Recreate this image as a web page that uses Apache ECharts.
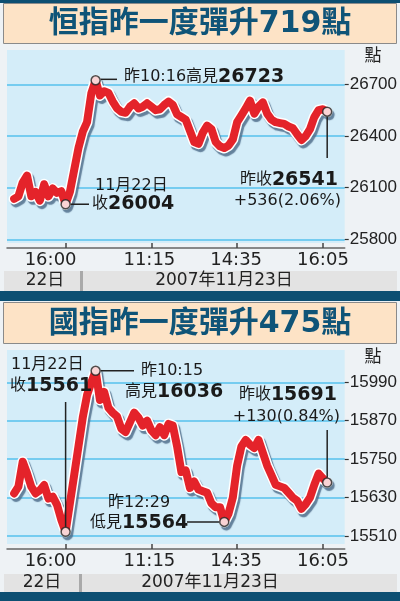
<!DOCTYPE html>
<html><head><meta charset="utf-8">
<script src="https://cdn.jsdelivr.net/npm/echarts@6/dist/echarts.min.js"></script>
<style>html,body{margin:0;padding:0;background:#eef2f5}#c{width:400px;height:601px}</style>
</head><body><div id="c"></div>
<script>
const hsiTitle = '恒指昨一度彈升719點';
const hsceiTitle = '國指昨一度彈升475點';
const unitLabel = '點';
const timeTickIdx = [12, 32, 52, 72];
const timeTickLabels = ['16:00', '11:15', '14:35', '16:05'];
const dateLabels = ['22日', '2007年11月23日'];
const hsiTicks = [25800, 26100, 26400, 26700];
const hsceiTicks = [15510, 15630, 15750, 15870, 15990];
const hsiValues = [
  26035, 26050, 26130, 26170, 26050, 26075, 26025, 26120, 26050, 26095, 26070, 26080, 26004,
  26075, 26203, 26330, 26425, 26480, 26648, 26723, 26635, 26660, 26650, 26600, 26560, 26540,
  26535, 26570, 26590, 26560, 26570, 26590, 26570, 26550, 26555, 26580, 26600, 26580, 26525,
  26510, 26495, 26430, 26365, 26355, 26420, 26460, 26440, 26365, 26340, 26330, 26345, 26380,
  26480, 26520, 26560, 26605, 26530, 26570, 26595, 26530, 26495, 26480, 26475, 26470, 26455,
  26445, 26410, 26377, 26400, 26440, 26510, 26550, 26555, 26541
];
const hsceiValues = [
  15643, 15664, 15742, 15706, 15664, 15643, 15653, 15669, 15627, 15633, 15607, 15560, 15523,
  15612, 15700, 15790, 15880, 15950, 15990, 16026, 15935, 15960, 15910, 15895, 15883, 15845,
  15835, 15865, 15895, 15880, 15855, 15870, 15840, 15825, 15850, 15825, 15860, 15855, 15790,
  15710, 15715, 15660, 15680, 15655, 15650, 15645, 15612, 15600, 15600, 15554, 15580, 15630,
  15730, 15790, 15810, 15795, 15785, 15810, 15770, 15730, 15700, 15670, 15665, 15660, 15645,
  15630, 15620, 15595, 15610, 15630, 15670, 15705, 15690, 15677
];
const hsiMarks = [12, 19, 73];
const hsceiMarks = [12, 19, 49, 73];
const hsiNotes = { high: ['昨10:16高見', '26723'], prev: ['11月22日', '收', '26004'], close: ['昨收', '26541', '+536(2.06%)'] };
const hsceiNotes = { prev: ['11月22日', '收', '15561'], high: ['昨10:15', '高見', '16036'], close: ['昨收', '15691', '+130(0.84%)'], low: ['昨12:29', '低見', '15564'] };

const F = '"DejaVu Sans", "Noto Sans CJK TC", sans-serif';
const FA = '"Liberation Sans", Arial, sans-serif';
const TEAL = '#0d4f72';
// pixel nudge of each time label relative to its tick (first one sits left of its tick in the source)
const labelNudge = [-15, -2, -1, 0];

function xAx(gi) {
  return {
    type: 'value', gridIndex: gi, min: -1.667, max: 77.09, offset: 5,
    axisLine: { show: true, onZero: false, lineStyle: { color: '#666', width: 1.5 } },
    axisTick: { show: true, inside: true, length: 5, customValues: timeTickIdx, lineStyle: { color: '#444', width: 1.5 } },
    axisLabel: { show: false },
    splitLine: { show: false }
  };
}
function yAx(gi, min, max, ticks) {
  return {
    type: 'value', gridIndex: gi, position: 'right', min: min, max: max,
    axisLine: { show: true, onZero: false, lineStyle: { color: 'rgba(0,0,0,0)' } },
    axisTick: { show: true, length: 4, customValues: ticks, lineStyle: { color: '#333', width: 1.2 } },
    axisLabel: { customValues: ticks, margin: 5, color: '#222', fontFamily: FA, fontSize: 17,
      formatter: function (v) { return String(Math.round(v)); } },
    splitLine: { show: true, lineStyle: { color: '#56c0ec', width: 1.5 } }
  };
}
function seriesFor(gi, vals, marks) {
  const data = vals.map(function (v, i) { return [i, v]; });
  return [
    { type: 'line', xAxisIndex: gi, yAxisIndex: gi, data: data, showSymbol: false, silent: true, z: 2,
      lineStyle: { color: '#ffffff', width: 11, cap: 'round', join: 'round', shadowColor: 'rgba(80,110,140,0.85)', shadowOffsetX: 2, shadowOffsetY: 3, shadowBlur: 1 } },
    { type: 'line', xAxisIndex: gi, yAxisIndex: gi, data: data, showSymbol: false, silent: true, z: 3,
      lineStyle: { color: '#e4232a', width: 8, cap: 'round', join: 'round' } },
    { type: 'scatter', xAxisIndex: gi, yAxisIndex: gi, data: marks.map(function (i) { return [i, vals[i]]; }),
      symbolSize: 9, z: 5, itemStyle: { color: '#fff', borderColor: '#222', borderWidth: 1.5 } }
  ];
}

const chart = echarts.init(document.getElementById('c'), null, { renderer: 'canvas' });
chart.setOption({
  animation: false,
  backgroundColor: '#eef2f5',
  grid: [
    { left: 7, width: 340, top: 50, height: 193, show: true, backgroundColor: '#d4edf9', borderWidth: 0 },
    { left: 7, width: 340, top: 350, height: 194, show: true, backgroundColor: '#d4edf9', borderWidth: 0 }
  ],
  xAxis: [xAx(0), xAx(1)],
  yAxis: [yAx(0, 25779, 26899, hsiTicks), yAx(1, 15485, 16091, hsceiTicks)],
  series: seriesFor(0, hsiValues, hsiMarks).concat(seriesFor(1, hsceiValues, hsceiMarks))
});

function P(gi, vals, i) { return chart.convertToPixel({ xAxisIndex: gi, yAxisIndex: gi }, [i, vals[i]]); }
const RICH = { b: { font: 'bold 19px ' + F, fill: '#1a1a1a' }, r: { font: '16px ' + F, fill: '#1a1a1a' } };
function T(x, y, text, align, size, weight, color, family) {
  return { type: 'text', x: x, y: y, z: 20, silent: true,
    style: { text: text, fill: color || '#1a1a1a', font: (weight || 'normal') + ' ' + (size || 16) + 'px ' + (family || F), align: align || 'left', verticalAlign: 'middle', rich: RICH } };
}
function L(x1, y1, x2, y2) {
  return { type: 'line', z: 15, silent: true, shape: { x1: x1, y1: y1, x2: x2, y2: y2 }, style: { stroke: '#222', lineWidth: 1.5 } };
}
function R(x, y, w, h, fill, stroke) {
  return { type: 'rect', z: -1, silent: true, shape: { x: x, y: y, width: w, height: h }, style: { fill: fill, stroke: stroke || null, lineWidth: 1 } };
}

const a1 = P(0, hsiValues, 12), a2 = P(0, hsiValues, 19), a3 = P(0, hsiValues, 73);
const b1 = P(1, hsceiValues, 12), b2 = P(1, hsceiValues, 19), b3 = P(1, hsceiValues, 49), b4 = P(1, hsceiValues, 73);

const g = [
  R(0, 0, 400, 3, TEAL),
  R(3.5, 3.5, 393, 40, '#fde3c6', '#8a8a8a'),
  T(200, 24, hsiTitle, 'center', 30, 'bold', '#0f5478'),
  R(4, 271, 393, 20, '#e3e3e3'),
  R(80, 271, 3, 20, '#a9a9a9'),
  T(45, 281, dateLabels[0], 'center', 17, 'normal', '#222'),
  T(224, 281, dateLabels[1], 'center', 17, 'normal', '#222'),
  R(0, 291, 400, 10, TEAL),
  R(3.5, 302.5, 393, 41, '#fde3c6', '#8a8a8a'),
  T(200, 324, hsceiTitle, 'center', 30, 'bold', '#0f5478'),
  R(4, 574, 393, 18, '#e3e3e3'),
  R(79, 574, 3, 18, '#a9a9a9'),
  T(42, 583, dateLabels[0], 'center', 17, 'normal', '#222'),
  T(210, 583, dateLabels[1], 'center', 17, 'normal', '#222'),
  R(0, 592, 400, 9, TEAL),
  T(373, 57, unitLabel, 'center', 17, 'normal', '#222'),
  T(373, 358, unitLabel, 'center', 17, 'normal', '#222'),
  // HSI annotations
  L(a2[0] + 5, a2[1] - 1, 117, a2[1] - 1),
  T(124, 77, '{r|' + hsiNotes.high[0] + '}{b|' + hsiNotes.high[1] + '}'),
  L(a1[0] + 5, a1[1], 89, a1[1]),
  T(95, 186, hsiNotes.prev[0]),
  T(92, 204, '{r|' + hsiNotes.prev[1] + '}{b|' + hsiNotes.prev[2] + '}'),
  L(a3[0], a3[1] + 5, a3[0], 158),
  T(338, 180, '{r|' + hsiNotes.close[0] + '}{b|' + hsiNotes.close[1] + '}', 'right'),
  T(341, 201, hsiNotes.close[2], 'right'),
  // HSCEI annotations
  L(b1[0], b1[1] - 5, b1[0], 402),
  T(11, 365, hsceiNotes.prev[0]),
  T(10, 386, '{r|' + hsceiNotes.prev[1] + '}{b|' + hsceiNotes.prev[2] + '}'),
  L(b2[0] + 5, b2[1], 134, b2[1]),
  T(141, 371, hsceiNotes.high[0]),
  T(125, 392, '{r|' + hsceiNotes.high[1] + '}{b|' + hsceiNotes.high[2] + '}'),
  L(b4[0], b4[1] - 5, b4[0], 430),
  T(337, 395, '{r|' + hsceiNotes.close[0] + '}{b|' + hsceiNotes.close[1] + '}', 'right'),
  T(340, 417, hsceiNotes.close[2], 'right'),
  L(187, b3[1], b3[0] - 5, b3[1]),
  T(108, 503, hsceiNotes.low[0]),
  T(90, 523, '{r|' + hsceiNotes.low[1] + '}{b|' + hsceiNotes.low[2] + '}')
];
// time labels under each x axis, placed from the axis scale
[[0, 260], [1, 561]].forEach(function (p) {
  timeTickIdx.forEach(function (idx, k) {
    const px = chart.convertToPixel({ xAxisIndex: p[0] }, idx);
    g.push(T(px + labelNudge[k], p[1], timeTickLabels[k], 'center', 18, 'normal', '#222'));
  });
});
chart.setOption({ graphic: g });
</script></body></html>
